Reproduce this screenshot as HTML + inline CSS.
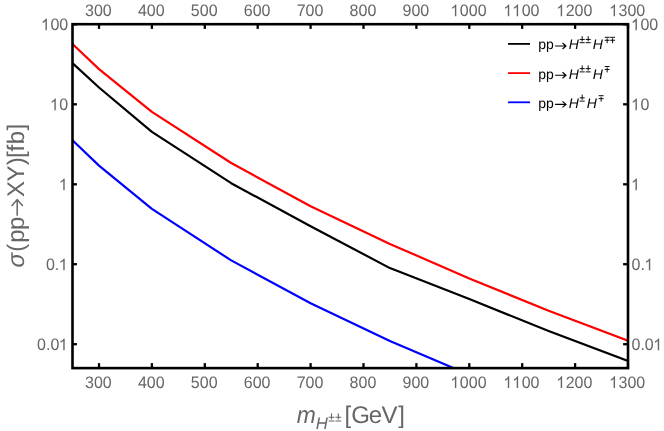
<!DOCTYPE html>
<html><head><meta charset="utf-8"><title>plot</title>
<style>
html,body{margin:0;padding:0;background:#fff;}
body{width:664px;height:431px;overflow:hidden;font-family:"Liberation Sans",sans-serif;}
svg{display:block;will-change:transform;}
text{font-family:"Liberation Sans",sans-serif;text-rendering:geometricPrecision;}
.t{font-size:16.6px;fill:#666;}
.lg{font-size:14px;fill:#000;}
.ax{font-size:24px;fill:#666;}
</style></head><body>
<svg width="664" height="431" viewBox="0 0 664 431">
<rect x="0" y="0" width="664" height="431" fill="#fff"/>
<defs><clipPath id="c"><rect x="72.5" y="24.2" width="555.5" height="343.9"/></clipPath></defs>

<g clip-path="url(#c)" fill="none" stroke-width="2.2" stroke-linejoin="round">
<polyline stroke="#0000ff" points="72.5,140.2 99.0,165.6 151.9,208.9 231.2,260.4 310.6,303.3 389.9,340.9 469.3,374.8"/>
<polyline stroke="#000" points="72.5,63.1 99.0,87.5 151.9,131.9 231.2,183.2 310.6,226.2 389.9,268.1 469.3,299.1 548.6,331.0 628.0,361.0"/>
<polyline stroke="#ff0000" points="72.5,44.0 99.0,69.1 151.9,111.9 231.2,163.0 310.6,206.3 389.9,243.9 469.3,278.5 548.6,310.7 628.0,340.7"/>
</g>
<g stroke="#000" stroke-width="2.3">
<line x1="99.0" y1="24.2" x2="99.0" y2="28.9"/>
<line x1="99.0" y1="368.1" x2="99.0" y2="363.1"/>
<line x1="151.9" y1="24.2" x2="151.9" y2="28.9"/>
<line x1="151.9" y1="368.1" x2="151.9" y2="363.1"/>
<line x1="204.8" y1="24.2" x2="204.8" y2="28.9"/>
<line x1="204.8" y1="368.1" x2="204.8" y2="363.1"/>
<line x1="257.7" y1="24.2" x2="257.7" y2="28.9"/>
<line x1="257.7" y1="368.1" x2="257.7" y2="363.1"/>
<line x1="310.6" y1="24.2" x2="310.6" y2="28.9"/>
<line x1="310.6" y1="368.1" x2="310.6" y2="363.1"/>
<line x1="363.5" y1="24.2" x2="363.5" y2="28.9"/>
<line x1="363.5" y1="368.1" x2="363.5" y2="363.1"/>
<line x1="416.4" y1="24.2" x2="416.4" y2="28.9"/>
<line x1="416.4" y1="368.1" x2="416.4" y2="363.1"/>
<line x1="469.3" y1="24.2" x2="469.3" y2="28.9"/>
<line x1="469.3" y1="368.1" x2="469.3" y2="363.1"/>
<line x1="522.2" y1="24.2" x2="522.2" y2="28.9"/>
<line x1="522.2" y1="368.1" x2="522.2" y2="363.1"/>
<line x1="575.1" y1="24.2" x2="575.1" y2="28.9"/>
<line x1="575.1" y1="368.1" x2="575.1" y2="363.1"/>
<line x1="628.0" y1="24.2" x2="628.0" y2="28.9"/>
<line x1="628.0" y1="368.1" x2="628.0" y2="363.1"/>
<line x1="72.5" y1="24.3" x2="76.9" y2="24.3"/>
<line x1="628.0" y1="24.3" x2="623.1" y2="24.3"/>
<line x1="72.5" y1="104.3" x2="76.9" y2="104.3"/>
<line x1="628.0" y1="104.3" x2="623.1" y2="104.3"/>
<line x1="72.5" y1="184.3" x2="76.9" y2="184.3"/>
<line x1="628.0" y1="184.3" x2="623.1" y2="184.3"/>
<line x1="72.5" y1="264.2" x2="76.9" y2="264.2"/>
<line x1="628.0" y1="264.2" x2="623.1" y2="264.2"/>
<line x1="72.5" y1="344.2" x2="76.9" y2="344.2"/>
<line x1="628.0" y1="344.2" x2="623.1" y2="344.2"/>
</g>
<rect x="72.5" y="24.2" width="555.5" height="343.9" fill="none" stroke="#000" stroke-width="2.6"/>
<text class="t" transform="translate(85.04,16.20) scale(0.965,1)">3</text>
<text class="t" transform="translate(93.95,16.20) scale(0.965,1)">0</text>
<text class="t" transform="translate(102.86,16.20) scale(0.965,1)">0</text>
<text class="t" transform="translate(85.04,388.10) scale(0.965,1)">3</text>
<text class="t" transform="translate(93.95,388.10) scale(0.965,1)">0</text>
<text class="t" transform="translate(102.86,388.10) scale(0.965,1)">0</text>
<text class="t" transform="translate(137.95,16.20) scale(0.965,1)">4</text>
<text class="t" transform="translate(146.85,16.20) scale(0.965,1)">0</text>
<text class="t" transform="translate(155.76,16.20) scale(0.965,1)">0</text>
<text class="t" transform="translate(137.95,388.10) scale(0.965,1)">4</text>
<text class="t" transform="translate(146.85,388.10) scale(0.965,1)">0</text>
<text class="t" transform="translate(155.76,388.10) scale(0.965,1)">0</text>
<text class="t" transform="translate(190.85,16.20) scale(0.965,1)">5</text>
<text class="t" transform="translate(199.76,16.20) scale(0.965,1)">0</text>
<text class="t" transform="translate(208.67,16.20) scale(0.965,1)">0</text>
<text class="t" transform="translate(190.85,388.10) scale(0.965,1)">5</text>
<text class="t" transform="translate(199.76,388.10) scale(0.965,1)">0</text>
<text class="t" transform="translate(208.67,388.10) scale(0.965,1)">0</text>
<text class="t" transform="translate(243.76,16.20) scale(0.965,1)">6</text>
<text class="t" transform="translate(252.66,16.20) scale(0.965,1)">0</text>
<text class="t" transform="translate(261.57,16.20) scale(0.965,1)">0</text>
<text class="t" transform="translate(243.76,388.10) scale(0.965,1)">6</text>
<text class="t" transform="translate(252.66,388.10) scale(0.965,1)">0</text>
<text class="t" transform="translate(261.57,388.10) scale(0.965,1)">0</text>
<text class="t" transform="translate(296.66,16.20) scale(0.965,1)">7</text>
<text class="t" transform="translate(305.57,16.20) scale(0.965,1)">0</text>
<text class="t" transform="translate(314.47,16.20) scale(0.965,1)">0</text>
<text class="t" transform="translate(296.66,388.10) scale(0.965,1)">7</text>
<text class="t" transform="translate(305.57,388.10) scale(0.965,1)">0</text>
<text class="t" transform="translate(314.47,388.10) scale(0.965,1)">0</text>
<text class="t" transform="translate(349.57,16.20) scale(0.965,1)">8</text>
<text class="t" transform="translate(358.47,16.20) scale(0.965,1)">0</text>
<text class="t" transform="translate(367.38,16.20) scale(0.965,1)">0</text>
<text class="t" transform="translate(349.57,388.10) scale(0.965,1)">8</text>
<text class="t" transform="translate(358.47,388.10) scale(0.965,1)">0</text>
<text class="t" transform="translate(367.38,388.10) scale(0.965,1)">0</text>
<text class="t" transform="translate(402.47,16.20) scale(0.965,1)">9</text>
<text class="t" transform="translate(411.38,16.20) scale(0.965,1)">0</text>
<text class="t" transform="translate(420.28,16.20) scale(0.965,1)">0</text>
<text class="t" transform="translate(402.47,388.10) scale(0.965,1)">9</text>
<text class="t" transform="translate(411.38,388.10) scale(0.965,1)">0</text>
<text class="t" transform="translate(420.28,388.10) scale(0.965,1)">0</text>
<path d="M0.3726 0H0.2847V-0.5601Q0.2529 -0.5298 0.2014 -0.4995Q0.1499 -0.4692 0.1089 -0.4541V-0.5391Q0.1826 -0.5737 0.2378 -0.6230Q0.2930 -0.6724 0.3159 -0.7188H0.3726Z" fill="#666" transform="translate(450.34,16.20) scale(16.019,16.351)"/>
<text class="t" transform="translate(459.83,16.20) scale(0.965,1)">0</text>
<text class="t" transform="translate(468.74,16.20) scale(0.965,1)">0</text>
<text class="t" transform="translate(477.64,16.20) scale(0.965,1)">0</text>
<path d="M0.3726 0H0.2847V-0.5601Q0.2529 -0.5298 0.2014 -0.4995Q0.1499 -0.4692 0.1089 -0.4541V-0.5391Q0.1826 -0.5737 0.2378 -0.6230Q0.2930 -0.6724 0.3159 -0.7188H0.3726Z" fill="#666" transform="translate(450.34,388.10) scale(16.019,16.351)"/>
<text class="t" transform="translate(459.83,388.10) scale(0.965,1)">0</text>
<text class="t" transform="translate(468.74,388.10) scale(0.965,1)">0</text>
<text class="t" transform="translate(477.64,388.10) scale(0.965,1)">0</text>
<path d="M0.3726 0H0.2847V-0.5601Q0.2529 -0.5298 0.2014 -0.4995Q0.1499 -0.4692 0.1089 -0.4541V-0.5391Q0.1826 -0.5737 0.2378 -0.6230Q0.2930 -0.6724 0.3159 -0.7188H0.3726Z" fill="#666" transform="translate(503.25,16.20) scale(16.019,16.351)"/>
<path d="M0.3726 0H0.2847V-0.5601Q0.2529 -0.5298 0.2014 -0.4995Q0.1499 -0.4692 0.1089 -0.4541V-0.5391Q0.1826 -0.5737 0.2378 -0.6230Q0.2930 -0.6724 0.3159 -0.7188H0.3726Z" fill="#666" transform="translate(512.15,16.20) scale(16.019,16.351)"/>
<text class="t" transform="translate(521.64,16.20) scale(0.965,1)">0</text>
<text class="t" transform="translate(530.55,16.20) scale(0.965,1)">0</text>
<path d="M0.3726 0H0.2847V-0.5601Q0.2529 -0.5298 0.2014 -0.4995Q0.1499 -0.4692 0.1089 -0.4541V-0.5391Q0.1826 -0.5737 0.2378 -0.6230Q0.2930 -0.6724 0.3159 -0.7188H0.3726Z" fill="#666" transform="translate(503.25,388.10) scale(16.019,16.351)"/>
<path d="M0.3726 0H0.2847V-0.5601Q0.2529 -0.5298 0.2014 -0.4995Q0.1499 -0.4692 0.1089 -0.4541V-0.5391Q0.1826 -0.5737 0.2378 -0.6230Q0.2930 -0.6724 0.3159 -0.7188H0.3726Z" fill="#666" transform="translate(512.15,388.10) scale(16.019,16.351)"/>
<text class="t" transform="translate(521.64,388.10) scale(0.965,1)">0</text>
<text class="t" transform="translate(530.55,388.10) scale(0.965,1)">0</text>
<path d="M0.3726 0H0.2847V-0.5601Q0.2529 -0.5298 0.2014 -0.4995Q0.1499 -0.4692 0.1089 -0.4541V-0.5391Q0.1826 -0.5737 0.2378 -0.6230Q0.2930 -0.6724 0.3159 -0.7188H0.3726Z" fill="#666" transform="translate(556.15,16.20) scale(16.019,16.351)"/>
<text class="t" transform="translate(565.64,16.20) scale(0.965,1)">2</text>
<text class="t" transform="translate(574.55,16.20) scale(0.965,1)">0</text>
<text class="t" transform="translate(583.45,16.20) scale(0.965,1)">0</text>
<path d="M0.3726 0H0.2847V-0.5601Q0.2529 -0.5298 0.2014 -0.4995Q0.1499 -0.4692 0.1089 -0.4541V-0.5391Q0.1826 -0.5737 0.2378 -0.6230Q0.2930 -0.6724 0.3159 -0.7188H0.3726Z" fill="#666" transform="translate(556.15,388.10) scale(16.019,16.351)"/>
<text class="t" transform="translate(565.64,388.10) scale(0.965,1)">2</text>
<text class="t" transform="translate(574.55,388.10) scale(0.965,1)">0</text>
<text class="t" transform="translate(583.45,388.10) scale(0.965,1)">0</text>
<path d="M0.3726 0H0.2847V-0.5601Q0.2529 -0.5298 0.2014 -0.4995Q0.1499 -0.4692 0.1089 -0.4541V-0.5391Q0.1826 -0.5737 0.2378 -0.6230Q0.2930 -0.6724 0.3159 -0.7188H0.3726Z" fill="#666" transform="translate(609.06,16.20) scale(16.019,16.351)"/>
<text class="t" transform="translate(618.54,16.20) scale(0.965,1)">3</text>
<text class="t" transform="translate(627.45,16.20) scale(0.965,1)">0</text>
<text class="t" transform="translate(636.36,16.20) scale(0.965,1)">0</text>
<path d="M0.3726 0H0.2847V-0.5601Q0.2529 -0.5298 0.2014 -0.4995Q0.1499 -0.4692 0.1089 -0.4541V-0.5391Q0.1826 -0.5737 0.2378 -0.6230Q0.2930 -0.6724 0.3159 -0.7188H0.3726Z" fill="#666" transform="translate(609.06,388.10) scale(16.019,16.351)"/>
<text class="t" transform="translate(618.54,388.10) scale(0.965,1)">3</text>
<text class="t" transform="translate(627.45,388.10) scale(0.965,1)">0</text>
<text class="t" transform="translate(636.36,388.10) scale(0.965,1)">0</text>
<path d="M0.3726 0H0.2847V-0.5601Q0.2529 -0.5298 0.2014 -0.4995Q0.1499 -0.4692 0.1089 -0.4541V-0.5391Q0.1826 -0.5737 0.2378 -0.6230Q0.2930 -0.6724 0.3159 -0.7188H0.3726Z" fill="#666" transform="translate(40.90,30.30) scale(16.019,16.351)"/>
<text class="t" transform="translate(50.39,30.30) scale(0.965,1)">0</text>
<text class="t" transform="translate(59.29,30.30) scale(0.965,1)">0</text>
<path d="M0.3726 0H0.2847V-0.5601Q0.2529 -0.5298 0.2014 -0.4995Q0.1499 -0.4692 0.1089 -0.4541V-0.5391Q0.1826 -0.5737 0.2378 -0.6230Q0.2930 -0.6724 0.3159 -0.7188H0.3726Z" fill="#666" transform="translate(630.92,30.30) scale(16.019,16.351)"/>
<text class="t" transform="translate(640.41,30.30) scale(0.965,1)">0</text>
<text class="t" transform="translate(649.31,30.30) scale(0.965,1)">0</text>
<path d="M0.3726 0H0.2847V-0.5601Q0.2529 -0.5298 0.2014 -0.4995Q0.1499 -0.4692 0.1089 -0.4541V-0.5391Q0.1826 -0.5737 0.2378 -0.6230Q0.2930 -0.6724 0.3159 -0.7188H0.3726Z" fill="#666" transform="translate(49.81,110.26) scale(16.019,16.351)"/>
<text class="t" transform="translate(59.29,110.26) scale(0.965,1)">0</text>
<path d="M0.3726 0H0.2847V-0.5601Q0.2529 -0.5298 0.2014 -0.4995Q0.1499 -0.4692 0.1089 -0.4541V-0.5391Q0.1826 -0.5737 0.2378 -0.6230Q0.2930 -0.6724 0.3159 -0.7188H0.3726Z" fill="#666" transform="translate(630.92,110.26) scale(16.019,16.351)"/>
<text class="t" transform="translate(640.41,110.26) scale(0.965,1)">0</text>
<path d="M0.3726 0H0.2847V-0.5601Q0.2529 -0.5298 0.2014 -0.4995Q0.1499 -0.4692 0.1089 -0.4541V-0.5391Q0.1826 -0.5737 0.2378 -0.6230Q0.2930 -0.6724 0.3159 -0.7188H0.3726Z" fill="#666" transform="translate(58.71,190.22) scale(16.019,16.351)"/>
<path d="M0.3726 0H0.2847V-0.5601Q0.2529 -0.5298 0.2014 -0.4995Q0.1499 -0.4692 0.1089 -0.4541V-0.5391Q0.1826 -0.5737 0.2378 -0.6230Q0.2930 -0.6724 0.3159 -0.7188H0.3726Z" fill="#666" transform="translate(630.92,190.22) scale(16.019,16.351)"/>
<text class="t" transform="translate(45.93,270.17) scale(0.965,1)">0</text>
<text class="t" transform="translate(54.84,270.17) scale(0.965,1)">.</text>
<path d="M0.3726 0H0.2847V-0.5601Q0.2529 -0.5298 0.2014 -0.4995Q0.1499 -0.4692 0.1089 -0.4541V-0.5391Q0.1826 -0.5737 0.2378 -0.6230Q0.2930 -0.6724 0.3159 -0.7188H0.3726Z" fill="#666" transform="translate(58.71,270.17) scale(16.019,16.351)"/>
<text class="t" transform="translate(631.50,270.17) scale(0.965,1)">0</text>
<text class="t" transform="translate(640.41,270.17) scale(0.965,1)">.</text>
<path d="M0.3726 0H0.2847V-0.5601Q0.2529 -0.5298 0.2014 -0.4995Q0.1499 -0.4692 0.1089 -0.4541V-0.5391Q0.1826 -0.5737 0.2378 -0.6230Q0.2930 -0.6724 0.3159 -0.7188H0.3726Z" fill="#666" transform="translate(644.28,270.17) scale(16.019,16.351)"/>
<text class="t" transform="translate(37.03,350.13) scale(0.965,1)">0</text>
<text class="t" transform="translate(45.93,350.13) scale(0.965,1)">.</text>
<text class="t" transform="translate(50.39,350.13) scale(0.965,1)">0</text>
<path d="M0.3726 0H0.2847V-0.5601Q0.2529 -0.5298 0.2014 -0.4995Q0.1499 -0.4692 0.1089 -0.4541V-0.5391Q0.1826 -0.5737 0.2378 -0.6230Q0.2930 -0.6724 0.3159 -0.7188H0.3726Z" fill="#666" transform="translate(58.71,350.13) scale(16.019,16.351)"/>
<text class="t" transform="translate(631.50,350.13) scale(0.965,1)">0</text>
<text class="t" transform="translate(640.41,350.13) scale(0.965,1)">.</text>
<text class="t" transform="translate(644.86,350.13) scale(0.965,1)">0</text>
<path d="M0.3726 0H0.2847V-0.5601Q0.2529 -0.5298 0.2014 -0.4995Q0.1499 -0.4692 0.1089 -0.4541V-0.5391Q0.1826 -0.5737 0.2378 -0.6230Q0.2930 -0.6724 0.3159 -0.7188H0.3726Z" fill="#666" transform="translate(653.19,350.13) scale(16.019,16.351)"/>
<line x1="508" y1="43.9" x2="530" y2="43.9" stroke="#000" stroke-width="1.8"/>
<text class="lg" x="538.2" y="49.3">pp</text>
<path d="M555.10 46.00H565.70M562.50 43.00L566.00 46.00L562.50 49.00" stroke="#000" stroke-width="1.15" fill="none" stroke-linejoin="miter"/>
<text class="lg" font-style="italic" x="568.7" y="49.3">H</text>
<path d="M582.20 36.20V41.40M579.70 39.45H584.70M579.70 42.70H584.70" stroke="#000" stroke-width="0.95" fill="none"/>
<path d="M588.20 36.20V41.40M585.70 39.45H590.70M585.70 42.70H590.70" stroke="#000" stroke-width="0.95" fill="none"/>
<text class="lg" font-style="italic" x="592.7" y="49.3">H</text>
<path d="M607.15 38.30V43.20M604.70 40.25H609.60M604.70 37.30H609.60" stroke="#000" stroke-width="0.95" fill="none"/>
<path d="M612.60 38.30V43.20M610.15 40.25H615.05M610.15 37.30H615.05" stroke="#000" stroke-width="0.95" fill="none"/>
<line x1="508" y1="73.1" x2="530" y2="73.1" stroke="#ff0000" stroke-width="1.8"/>
<text class="lg" x="538.2" y="78.5">pp</text>
<path d="M555.10 75.20H565.70M562.50 72.20L566.00 75.20L562.50 78.20" stroke="#000" stroke-width="1.15" fill="none" stroke-linejoin="miter"/>
<text class="lg" font-style="italic" x="568.7" y="78.5">H</text>
<path d="M582.20 65.40V70.60M579.70 68.65H584.70M579.70 71.90H584.70" stroke="#000" stroke-width="0.95" fill="none"/>
<path d="M588.20 65.40V70.60M585.70 68.65H590.70M585.70 71.90H590.70" stroke="#000" stroke-width="0.95" fill="none"/>
<text class="lg" font-style="italic" x="592.7" y="78.5">H</text>
<path d="M607.15 67.50V72.40M604.70 69.45H609.60M604.70 66.50H609.60" stroke="#000" stroke-width="0.95" fill="none"/>
<line x1="508" y1="102.3" x2="530" y2="102.3" stroke="#0000ff" stroke-width="1.8"/>
<text class="lg" x="538.2" y="107.7">pp</text>
<path d="M555.10 104.40H565.70M562.50 101.40L566.00 104.40L562.50 107.40" stroke="#000" stroke-width="1.15" fill="none" stroke-linejoin="miter"/>
<text class="lg" font-style="italic" x="568.7" y="107.7">H</text>
<path d="M582.20 94.60V99.80M579.70 97.85H584.70M579.70 101.10H584.70" stroke="#000" stroke-width="0.95" fill="none"/>
<text class="lg" font-style="italic" x="586.7" y="107.7">H</text>
<path d="M601.15 96.70V101.60M598.70 98.65H603.60M598.70 95.70H603.60" stroke="#000" stroke-width="0.95" fill="none"/>
<g transform="translate(23.7,266.5) rotate(-90)">
<text class="ax" font-style="italic" x="-0.96" y="0">σ</text>
<text class="ax" x="14.73" y="0">(</text>
<text class="ax" x="23.86" y="0">p</text>
<text class="ax" x="36.51" y="0">p</text>
<path d="M50.70 -6.50H66.60M60.60 -12.10L66.90 -6.50L60.60 -0.90" stroke="#666" stroke-width="1.50" fill="none" stroke-linejoin="miter"/>
<text class="ax" x="69.43" y="0">X</text>
<text class="ax" x="84.90" y="0">Y</text>
<text class="ax" x="101.18" y="0">)</text>
<text class="ax" x="108.50" y="0">[</text>
<text class="ax" x="115.03" y="0">f</text>
<text class="ax" x="122.16" y="0">b</text>
<text class="ax" x="136.03" y="0">]</text>
</g>
<text class="ax" font-style="italic" transform="translate(296.82,422.7) scale(0.952,1)">m</text>
<text class="ax" x="344.40" y="422.7">[</text>
<text class="ax" x="351.26" y="422.7">G</text>
<text class="ax" x="368.80" y="422.7">e</text>
<text class="ax" x="381.55" y="422.7">V</text>
<text class="ax" x="398.18" y="422.7">]</text>
<text class="ax" font-style="italic" style="font-size:16.8px" x="315.87" y="429.0">H</text>
<path d="M331.50 413.40V419.48M328.60 417.20H334.40M328.60 421.00H334.40" stroke="#666" stroke-width="1.10" fill="none"/>
<path d="M338.30 413.40V419.48M335.40 417.20H341.20M335.40 421.00H341.20" stroke="#666" stroke-width="1.10" fill="none"/>
</svg></body></html>
